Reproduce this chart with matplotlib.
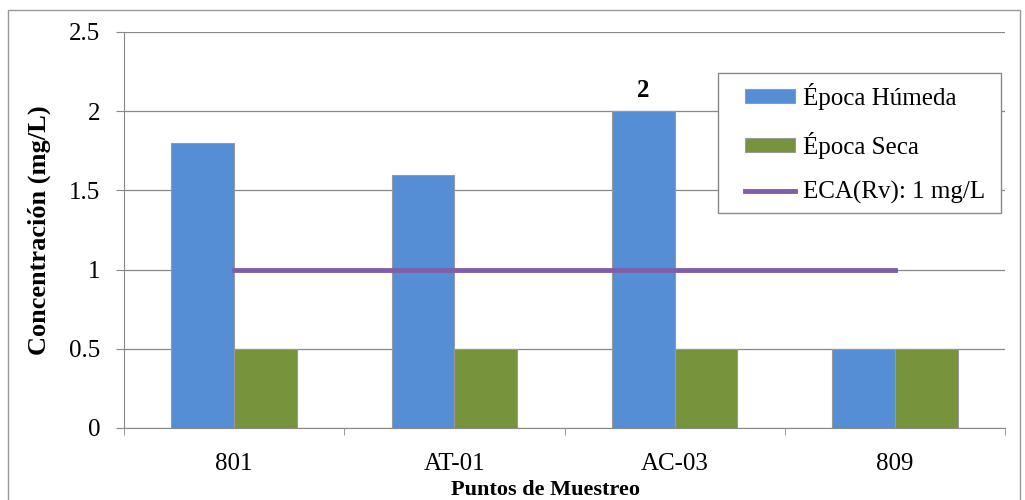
import matplotlib.pyplot as plt
import numpy as np
from matplotlib.patches import Rectangle

puntos = ['801', 'AT-01', 'AC-03', '809']
humeda = [1.8, 1.6, 2.0, 0.5]
seca = [0.5, 0.5, 0.5, 0.5]
eca = [1, 1, 1, 1]

plt.rcParams['font.family'] = ['Liberation Serif', 'DejaVu Serif']

fig = plt.figure(figsize=(10.25, 5), dpi=100)
ax = fig.add_axes([0.121, 0.144, 0.8595, 0.792])

x = np.arange(len(puntos))
w = 0.285
b1 = ax.bar(x - w / 2, humeda, w, color='#558ed5', edgecolor='#999999', linewidth=0.8,
            label='Época Húmeda', zorder=3)
b2 = ax.bar(x + w / 2, seca, w, color='#77933c', edgecolor='#999999', linewidth=0.8,
            label='Época Seca', zorder=3)
ln, = ax.plot(x, eca, color='#7f5fa8', linewidth=3.5, label='ECA(Rv): 1 mg/L', zorder=4)

ax.text(x[2] - w / 2, humeda[2] + 0.06, '2', ha='center', va='bottom',
        fontsize=18, fontweight='bold')

ax.set_xlim(-0.5, 3.5)
ax.set_ylim(0, 2.5)
ax.set_yticks([0, 0.5, 1, 1.5, 2, 2.5])
ax.set_yticklabels(['0', '0.5', '1', '1.5', '2', '2.5'], fontsize=18)
ax.set_xticks(x)
ax.set_xticklabels(puntos, fontsize=18)
ax.set_xticks(np.arange(-0.5, 4, 1), minor=True)
ax.tick_params(axis='x', which='major', length=0, pad=18)
ax.tick_params(axis='x', which='minor', length=5, color='#888888', direction='out')
ax.tick_params(axis='y', length=6, color='#888888', pad=11)
ax.grid(axis='y', color='#888888', linewidth=0.9, zorder=0)

for s in ['top', 'right']:
    ax.spines[s].set_visible(False)
for s in ['left', 'bottom']:
    ax.spines[s].set_color('#888888')

ax.set_ylabel('Concentración (mg/L)', fontsize=19, fontweight='bold', labelpad=13)
ax.set_xlabel('Puntos de Muestreo', fontsize=16, fontweight='bold')
ax.xaxis.set_label_coords(0.478, -0.132)

# legend box drawn separately so horizontal and vertical padding can differ
ax.add_patch(Rectangle((0.674, 0.543), 0.322, 0.354, transform=ax.transAxes,
                       facecolor='white', edgecolor='#888888', linewidth=1,
                       zorder=5, clip_on=False))
leg = ax.legend([b1, b2, ln], ['Época Húmeda', 'Época Seca', 'ECA(Rv): 1 mg/L'],
                loc='upper left', bbox_to_anchor=(0.705, 0.872), fontsize=18,
                frameon=False, handlelength=2.0, handleheight=0.45,
                labelspacing=0.88, borderpad=0, handletextpad=0.32,
                borderaxespad=0)
leg.set_zorder(6)

fig.patches.append(Rectangle((0.008, -0.05), 0.987, 1.03, transform=fig.transFigure,
                             fill=False, edgecolor='#999999', linewidth=1))

fig.savefig('out.png', dpi=100)
